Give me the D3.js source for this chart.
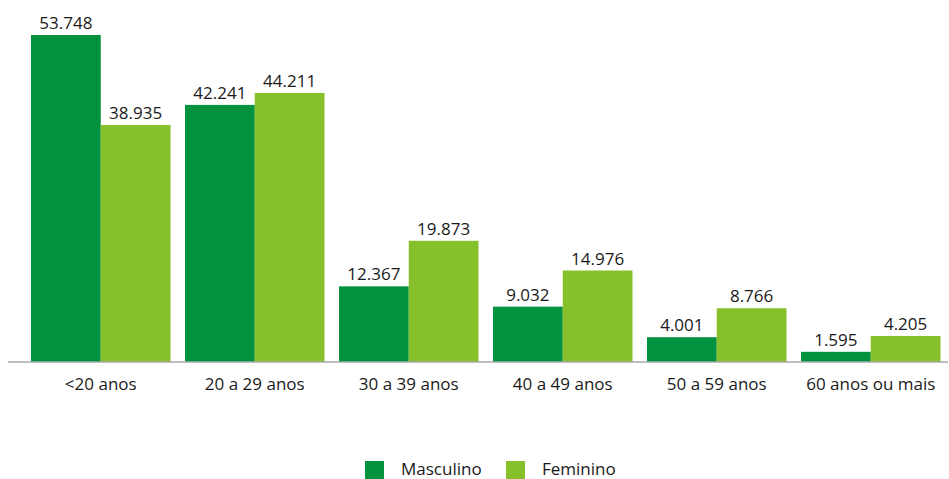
<!DOCTYPE html>
<html><head><meta charset="utf-8">
<script src="https://cdn.jsdelivr.net/npm/d3@7/dist/d3.min.js"></script>
<style>body{margin:0;background:#fff}text{font-family:"Open Sans",sans-serif;fill:#1a1a1a}</style>
</head><body><svg id="c" width="949" height="479"></svg>
<script>
const categories = ["<20 anos","20 a 29 anos","30 a 39 anos","40 a 49 anos","50 a 59 anos","60 anos ou mais"];
const seriesNames = ["Masculino","Feminino"];
const masculino = [53.748,42.241,12.367,9.032,4.001,1.595];
const feminino = [38.935,44.211,19.873,14.976,8.766,4.205];
const colors = ["#00923f","#86c12b"];

const svg = d3.select("#c");
const baseY = 361.5, topY = 35;
const x0 = d3.scaleBand().domain(categories).range([23.75, 23.75+154*6]).paddingInner(14.5/154).paddingOuter(0.5*14.5/154);
const x1 = d3.scaleBand().domain(seriesNames).range([0, x0.bandwidth()]);
const y = d3.scaleLinear().domain([0, 53.748]).range([baseY, topY]);
const fmt = d3.format(".3f");
const data = [masculino, feminino];
const fs = "17px";

const g = svg.append("g");
categories.forEach((c,i)=>{
  seriesNames.forEach((s,j)=>{
    const v = data[j][i];
    const bx = x0(c)+x1(s);
    g.append("rect").attr("x",bx).attr("width",x1.bandwidth()).attr("y",y(v)).attr("height",baseY-y(v)).attr("fill",colors[j]);
    g.append("text").attr("x",bx+x1.bandwidth()/2).attr("y",y(v)-6).attr("text-anchor","middle").attr("font-size",fs).text(fmt(v));
  });
});
svg.append("line").attr("x1",8).attr("x2",948).attr("y1",baseY+0.5).attr("y2",baseY+0.5).attr("stroke","#7f7f7f").attr("stroke-width",1.2);
const axis = d3.axisBottom(x0).tickSize(0).tickPadding(0);
const ag = svg.append("g").attr("transform",`translate(0,${baseY})`).call(axis);
ag.select(".domain").remove();
ag.selectAll("text").attr("font-size",fs).attr("dy",0).attr("y",28).style("font-family","'Open Sans',sans-serif").attr("fill","#1a1a1a");

const leg = svg.append("g");
const legX = [365, 506];
seriesNames.forEach((s,j)=>{
  leg.append("rect").attr("x",legX[j]).attr("y",461).attr("width",19).attr("height",18).attr("fill",colors[j]);
  leg.append("text").attr("x",legX[j]+36).attr("y",474.5).attr("font-size",fs).text(s);
});
</script></body></html>
